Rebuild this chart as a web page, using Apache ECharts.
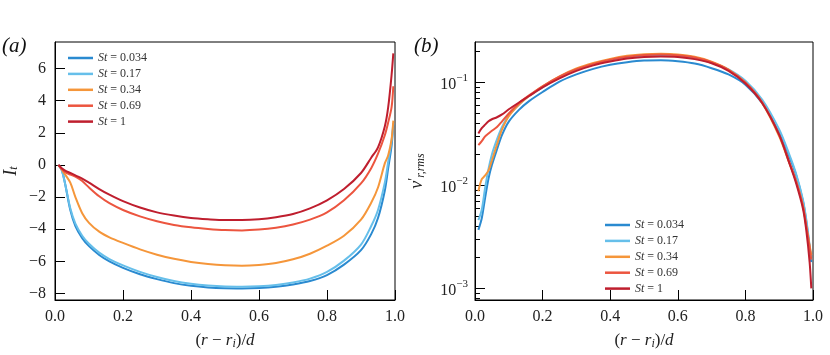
<!DOCTYPE html>
<html><head><meta charset="utf-8">
<script src="https://cdn.jsdelivr.net/npm/echarts@6/dist/echarts.min.js"></script>
<style>html,body{margin:0;padding:0;background:#fff}#c{width:830px;height:355px}</style>
</head><body><div id="c"></div>
<script>
// ---- Data ----
const names = ['St = 0.034', 'St = 0.17', 'St = 0.34', 'St = 0.69', 'St = 1'];
const colors = ['#2a8ad0', '#66bfea', '#f5963a', '#ec553f', '#bf1e2e'];

// Panel (a): I_t vs (r - r_i)/d
const xA = [0.01,0.02,0.03,0.045,0.06,0.08,0.1,0.13,0.16,0.2,0.25,0.3,0.35,0.4,0.45,0.5,0.55,0.6,0.65,0.7,0.75,0.8,0.85,0.9,0.93,0.95,0.97,0.98,0.99,0.995];
const itSt0034 = [0,-0.3,-1.2,-2.8,-3.8,-4.55,-5.05,-5.6,-6.0,-6.4,-6.8,-7.1,-7.35,-7.52,-7.62,-7.67,-7.68,-7.65,-7.57,-7.43,-7.22,-6.85,-6.2,-5.3,-4.3,-3.3,-1.6,-0.2,1.2,2.5];
const itSt017  = [0,-0.35,-1.2,-2.7,-3.65,-4.4,-4.9,-5.45,-5.85,-6.25,-6.65,-6.97,-7.22,-7.39,-7.5,-7.56,-7.57,-7.54,-7.46,-7.31,-7.07,-6.65,-5.95,-4.95,-3.8,-2.8,-1.1,0.2,1.5,2.6];
const itSt034  = [0,-0.3,-0.6,-1.1,-2.0,-3.0,-3.6,-4.15,-4.5,-4.85,-5.25,-5.58,-5.84,-6.03,-6.16,-6.24,-6.27,-6.22,-6.1,-5.87,-5.52,-5.02,-4.4,-3.4,-2.35,-1.4,0.1,0.6,1.6,2.76];
const itSt069  = [0,-0.25,-0.45,-0.6,-0.72,-1.0,-1.4,-1.95,-2.38,-2.8,-3.2,-3.5,-3.73,-3.88,-3.98,-4.05,-4.07,-4.02,-3.9,-3.7,-3.4,-2.95,-2.2,-1.15,-0.2,0.7,1.85,2.65,3.6,4.9];
const itSt1    = [0,-0.2,-0.35,-0.5,-0.65,-0.85,-1.1,-1.5,-1.85,-2.25,-2.65,-2.95,-3.15,-3.3,-3.38,-3.43,-3.43,-3.38,-3.25,-3.05,-2.7,-2.2,-1.5,-0.5,0.45,1.1,2.4,3.6,5.6,6.94];
const yTicksA = [-8,-6,-4,-2,0,2,4,6];

// Panel (b): v'_{r,rms} vs (r - r_i)/d
const xB = [0.01,0.02,0.03,0.04,0.05,0.065,0.08,0.1,0.13,0.16,0.2,0.25,0.3,0.35,0.4,0.45,0.5,0.55,0.6,0.65,0.7,0.75,0.8,0.85,0.9,0.93,0.95,0.97,0.98,0.99,0.995];
const vSt0034 = [0.0037,0.0048,0.0076,0.0117,0.0158,0.0224,0.031,0.0417,0.0543,0.066,0.081,0.102,0.12,0.136,0.149,0.158,0.164,0.165,0.161,0.153,0.138,0.12,0.0955,0.063,0.033,0.019,0.0126,0.0071,0.0045,0.0025,0.0018];
const vSt017  = [0.0046,0.0058,0.0095,0.0145,0.02,0.028,0.037,0.048,0.061,0.074,0.09,0.112,0.132,0.15,0.165,0.176,0.183,0.185,0.182,0.172,0.156,0.134,0.104,0.068,0.035,0.02,0.013,0.0073,0.0047,0.0026,0.0019];
const vSt034  = [0.0088,0.0115,0.0125,0.014,0.0175,0.025,0.035,0.047,0.061,0.074,0.092,0.115,0.137,0.155,0.17,0.182,0.189,0.191,0.188,0.178,0.16,0.134,0.1,0.063,0.03,0.0165,0.011,0.0064,0.004,0.0026,0.0021];
const vSt069  = [0.0247,0.027,0.03,0.032,0.034,0.037,0.042,0.05,0.063,0.075,0.092,0.114,0.135,0.152,0.167,0.178,0.185,0.187,0.184,0.175,0.158,0.133,0.1,0.064,0.031,0.0168,0.011,0.0064,0.0041,0.0025,0.0019];
const vSt1    = [0.032,0.036,0.039,0.042,0.044,0.046,0.049,0.055,0.064,0.074,0.09,0.11,0.13,0.147,0.16,0.171,0.177,0.179,0.177,0.169,0.154,0.13,0.098,0.063,0.031,0.0165,0.0105,0.006,0.0037,0.0018,0.001];
const yMajorB = [0.001,0.01,0.1];
const yMinorB = [0.0008,0.0009,0.002,0.003,0.004,0.005,0.006,0.007,0.008,0.009,0.02,0.03,0.04,0.05,0.06,0.07,0.08,0.09,0.2];

// ---- Chart ----
const serif = '"Liberation Serif", "DejaVu Serif", serif';
const seriesA = [itSt0034, itSt017, itSt034, itSt069, itSt1];
const seriesB = [vSt0034, vSt017, vSt034, vSt069, vSt1];

const series = [];
seriesA.forEach((vals, k) => series.push({
  name: names[k], type: 'line', xAxisIndex: 0, yAxisIndex: 0,
  data: xA.map((x, i) => [x, vals[i]]), symbol: 'none', smooth: 0.3,
  lineStyle: {width: 2, color: colors[k]}, itemStyle: {color: colors[k]}, z: 2 + k
}));
seriesB.forEach((vals, k) => series.push({
  name: names[k], type: 'line', xAxisIndex: 1, yAxisIndex: 1,
  data: xB.map((x, i) => [x, vals[i]]), symbol: 'none', smooth: 0.3,
  lineStyle: {width: 2, color: colors[k]}, itemStyle: {color: colors[k]}, z: 2 + k
}));

const axisLineBlack = {show: true, onZero: false, lineStyle: {color: '#000', width: 1}};
const tickLabel = {fontFamily: serif, fontSize: 16, color: '#222'};
const xAxisCommon = {
  type: 'value', min: 0, max: 1, interval: 0.2,
  axisLine: axisLineBlack, splitLine: {show: false},
  axisTick: {show: true, inside: true, length: 10, lineStyle: {color: '#000'}},
  axisLabel: Object.assign({margin: 9, formatter: v => v.toFixed(1)}, tickLabel),
  name: '{p|(}{i|r}{p| − }{i|r}{s|i}{p|)/}{i|d}', nameLocation: 'middle', nameGap: 32,
  nameTextStyle: {rich: {
    p: {fontFamily: serif, fontSize: 17, color: '#222'},
    i: {fontFamily: serif, fontSize: 17, fontStyle: 'italic', color: '#222'},
    s: {fontFamily: serif, fontSize: 12, fontStyle: 'italic', color: '#222', verticalAlign: 'bottom', padding: [6, 0, 0, 0]}
  }}
};

function sup(v) {
  return '{b|10}{s|−' + (-Math.round(Math.log10(v))) + '}';
}
const legendCommon = {
  orient: 'vertical', itemWidth: 25, itemHeight: 2.5, itemGap: 3.9, icon: 'rect',
  data: names, formatter: n => '{i|St}' + n.slice(2),
  textStyle: {fontFamily: serif, fontSize: 12, color: '#333', lineHeight: 12,
    rich: {i: {fontFamily: serif, fontSize: 12, fontStyle: 'italic', color: '#333'}}}
};

const option = {
  animation: false,
  backgroundColor: '#fff',
  grid: [
    {left: 55, top: 42, width: 340, height: 262, show: true, borderColor: '#000', borderWidth: 1},
    {left: 475, top: 42, width: 338, height: 262, show: true, borderColor: '#000', borderWidth: 1}
  ],
  xAxis: [
    Object.assign({gridIndex: 0}, xAxisCommon),
    Object.assign({gridIndex: 1}, xAxisCommon)
  ],
  yAxis: [
    {gridIndex: 0, type: 'value', min: -8.4, max: 7.65, position: 'left',
     axisLine: axisLineBlack, splitLine: {show: false},
     axisTick: {show: true, inside: true, length: 10, customValues: yTicksA, lineStyle: {color: '#000'}},
     axisLabel: Object.assign({margin: 9, customValues: yTicksA,
       formatter: v => v < 0 ? '−' + Math.abs(v) : String(v)}, tickLabel),
     name: '{i|I}{s|t}', nameLocation: 'middle', nameGap: 35, nameRotate: 90,
     nameTextStyle: {rich: {
       i: {fontFamily: serif, fontSize: 18, fontStyle: 'italic', color: '#222'},
       s: {fontFamily: serif, fontSize: 12, fontStyle: 'italic', color: '#222', verticalAlign: 'bottom', padding: [6, 0, 0, 0]}
     }}
    },
    {gridIndex: 1, type: 'log', logBase: 10, min: 0.00077, max: 0.248, position: 'left',
     axisLine: axisLineBlack, splitLine: {show: false},
     axisTick: {show: true, inside: true, length: 10, customValues: yMajorB, lineStyle: {color: '#000'}},
     axisLabel: {margin: 7, customValues: yMajorB, formatter: sup,
       rich: {
         b: {fontFamily: serif, fontSize: 16, color: '#222', verticalAlign: 'bottom', lineHeight: 20},
         s: {fontFamily: serif, fontSize: 11, color: '#222', verticalAlign: 'top', lineHeight: 20}
       }},
     name: '{i|v}{p|′}{s|r,rms}', nameLocation: 'middle', nameGap: 48, nameRotate: 90,
     nameTextStyle: {rich: {
       i: {fontFamily: serif, fontSize: 18, fontStyle: 'italic', color: '#222'},
       p: {fontFamily: serif, fontSize: 14, color: '#222', verticalAlign: 'top', padding: [0, 0, 6, 0]},
       s: {fontFamily: serif, fontSize: 12, fontStyle: 'italic', color: '#222', verticalAlign: 'bottom', padding: [6, 0, 0, 0]}
     }}
    },
    {gridIndex: 1, type: 'log', logBase: 10, min: 0.00077, max: 0.248, position: 'left', offset: 0,
     axisLine: {show: false}, splitLine: {show: false},
     axisTick: {show: true, inside: true, length: 5, customValues: yMinorB, lineStyle: {color: '#000'}},
     axisLabel: {show: false}
    }
  ],
  legend: [
    Object.assign({left: 63, top: 47}, legendCommon),
    Object.assign({left: 600, top: 214}, legendCommon)
  ],
  graphic: [
    {type: 'text', left: 2, top: 36, style: {text: '(a)', font: 'italic 21px ' + serif, fill: '#111'}},
    {type: 'text', left: 414, top: 36, style: {text: '(b)', font: 'italic 21px ' + serif, fill: '#111'}}
  ],
  series: series
};

const chart = echarts.init(document.getElementById('c'), null, {renderer: 'canvas'});
chart.setOption(option);
</script></body></html>
